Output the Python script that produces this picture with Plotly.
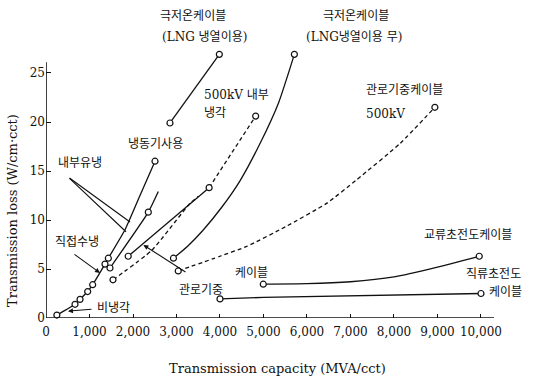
import plotly.graph_objects as go

# ---------------- data ----------------
x_ticks = [0, 1000, 2000, 3000, 4000, 5000, 6000, 7000, 8000, 9000, 10000]
x_tick_labels = ["0", "1,000", "2,000", "3,000", "4,000", "5,000", "6,000",
                 "7,000", "8,000", "9,000", "10,000"]
y_ticks = [0, 5, 10, 15, 20, 25]
y_tick_labels = ["0", "5", "10", "15", "20", "25"]

# non-cooled / direct water cooling / refrigerator curve
main_x = [250, 667, 782, 958, 1073, 1356, 1433, 1816, 2161, 2506]
main_y = [0.3, 1.4, 1.9, 2.7, 3.4, 5.5, 6.1, 9.0, 12.5, 16.0]
main_mx = [250, 667, 782, 958, 1073, 1356, 1433, 2506]
main_my = [0.3, 1.4, 1.9, 2.7, 3.4, 5.5, 6.1, 16.0]

# internal oil cooling curve
oil_x = [1471, 2352, 2582]
oil_y = [5.1, 10.8, 12.9]
oil_mx = [1471, 2352]
oil_my = [5.1, 10.8]

# pipe gas cable (solid)
pipe_x = [1890, 3750]
pipe_y = [6.3, 13.3]
# pipe gas cable (dashed, lower)
pipe_d_x = [1540, 2430, 3310, 3500]
pipe_d_y = [3.9, 6.9, 11.7, 12.4]
pipe_d_mx = [1540]
pipe_d_my = [3.9]
# 500kV internal cooling (dashed)
int500_x = [3750, 4820]
int500_y = [13.3, 20.6]

# cryogenic cable (with LNG)
lng_x = [2850, 3985]
lng_y = [19.9, 26.9]
# cryogenic cable (without LNG)
nolng_x = [2930, 3250, 3600, 4040, 4460, 4920, 5350, 5710]
nolng_y = [6.1, 7.3, 8.9, 11.3, 14.0, 17.8, 22.0, 26.9]
nolng_mx = [2930, 5710]
nolng_my = [6.1, 26.9]

# pipe gas cable 500kV (dashed)
gas500_x = [3040, 4000, 4613, 5500, 6452, 7140, 8138, 8940]
gas500_y = [4.8, 6.3, 7.3, 9.3, 11.7, 14.1, 17.8, 21.5]
gas500_mx = [3040, 8940]
gas500_my = [4.8, 21.5]

# AC superconducting cable
ac_x = [4995, 6000, 7000, 8000, 9000, 9960]
ac_y = [3.45, 3.5, 3.7, 4.2, 5.2, 6.3]
ac_mx = [4995, 9960]
ac_my = [3.45, 6.3]

# DC superconducting cable
dc_x = [4000, 5000, 10000]
dc_y = [1.95, 2.1, 2.5]
dc_mx = [4000, 10000]
dc_my = [1.95, 2.5]

# ---------------- figure ----------------
SERIF = "DejaVu Serif, Noto Sans CJK KR"
BLACK = "#111111"

fig = go.Figure()


def add_line(xs, ys, dash="solid"):
    fig.add_trace(go.Scatter(x=xs, y=ys, mode="lines",
                             line=dict(color=BLACK, width=1.3, dash=dash,
                                       shape="spline", smoothing=0.5),
                             hoverinfo="skip", showlegend=False))


def add_markers(xs, ys):
    fig.add_trace(go.Scatter(x=xs, y=ys, mode="markers",
                             marker=dict(symbol="circle", size=6, color="white",
                                         line=dict(color=BLACK, width=1.2)),
                             hoverinfo="skip", showlegend=False,
                             cliponaxis=False))


add_line(main_x, main_y)
add_line(oil_x, oil_y)
add_line(pipe_x, pipe_y)
add_line(pipe_d_x, pipe_d_y, dash="4px,3px")
add_line(int500_x, int500_y, dash="4px,3px")
add_line(lng_x, lng_y)
add_line(nolng_x, nolng_y)
add_line(gas500_x, gas500_y, dash="4px,3px")
add_line(ac_x, ac_y)
add_line(dc_x, dc_y)

add_markers(main_mx, main_my)
add_markers(oil_mx, oil_my)
add_markers(pipe_x, pipe_y)
add_markers(pipe_d_mx, pipe_d_my)
add_markers(int500_x[1:], int500_y[1:])
add_markers(lng_x, lng_y)
add_markers(nolng_mx, nolng_my)
add_markers(gas500_mx, gas500_my)
add_markers(ac_mx, ac_my)
add_markers(dc_mx, dc_my)

# axis lines
fig.add_shape(type="line", x0=0, x1=0, y0=0, y1=26.1, xref="x", yref="y",
              line=dict(color=BLACK, width=1.6))
fig.add_shape(type="line", x0=0, x1=10300, y0=0, y1=0, xref="x", yref="y",
              line=dict(color=BLACK, width=1.3))

# text labels
labels = [
    ("극저온케이블", 3379, 30.8, "center"),
    ("(LNG 냉열이용)", 3655, 28.7, "center"),
    ("극저온케이블", 7126, 30.8, "center"),
    ("(LNG냉열이용 무)", 7080, 28.7, "center"),
    ("500kV 내부", 3586, 22.8, "left"),
    ("냉각", 3586, 20.9, "left"),
    ("냉동기사용", 2506, 17.8, "center"),
    ("내부유냉", 782, 15.8, "center"),
    ("관로기중케이블", 7310, 23.3, "left"),
    ("500kV", 7310, 20.8, "left"),
    ("교류초전도케이블", 8644, 8.5, "left"),
    ("직류초전도", 9609, 4.5, "left"),
    ("케이블", 10138, 2.65, "left"),
    ("케이블", 4299, 4.6, "left"),
    ("관로기중", 3011, 2.86, "left"),
    ("직접수냉", 713, 7.76, "center"),
    ("비냉각", 1126, 1.0, "left"),
]
for text, lx, ly, anchor in labels:
    fig.add_annotation(x=lx, y=ly, xref="x", yref="y", text=text,
                       showarrow=False, xanchor=anchor, yanchor="middle",
                       font=dict(family=SERIF, size=12, color=BLACK))

# leader lines (head x,y ; tail ax,ay ; arrowhead)
leaders = [
    (1931, 9.8, 506, 14.4, 0),
    (1839, 8.8, 506, 14.4, 0),
    (1241, 4.6, 620, 6.6, 2),
    (506, 0.7, 1080, 0.9, 2),
    (2240, 7.45, 3241, 4.6, 2),
]
for hx, hy, tx, ty, head in leaders:
    fig.add_annotation(x=hx, y=hy, ax=tx, ay=ty, xref="x", yref="y",
                       axref="x", ayref="y", text="", showarrow=True,
                       arrowhead=head, arrowsize=0.9, arrowwidth=1.1,
                       arrowcolor=BLACK)

# axis titles
fig.add_annotation(xref="paper", yref="paper",
                   x=(277 - 46) / 474, y=(318 - 368) / 314,
                   text="Transmission capacity (MVA/cct)", showarrow=False,
                   xanchor="center", yanchor="middle",
                   font=dict(family=SERIF, size=13, color=BLACK))
fig.add_annotation(xref="paper", yref="paper",
                   x=(12 - 46) / 474, y=(318 - 211) / 314,
                   text="Transmission loss (W/cm·cct)", showarrow=False,
                   textangle=-90, xanchor="center", yanchor="middle",
                   font=dict(family=SERIF, size=13, color=BLACK))

fig.update_layout(
    width=533, height=378,
    margin=dict(l=46, r=13, t=4, b=60),
    paper_bgcolor="white", plot_bgcolor="white",
    showlegend=False,
    xaxis=dict(range=[0, 10897], tickvals=x_ticks, ticktext=x_tick_labels,
               ticks="inside", ticklen=4, tickcolor=BLACK, showgrid=False,
               zeroline=False, showline=False, ticklabelstandoff=5,
               tickfont=dict(family=SERIF, size=12, color=BLACK)),
    yaxis=dict(range=[0, 32.04], tickvals=y_ticks, ticktext=y_tick_labels,
               ticks="inside", ticklen=5, tickcolor=BLACK, showgrid=False,
               zeroline=False, showline=False,
               tickfont=dict(family=SERIF, size=12, color=BLACK)),
)

fig.write_html("out.html")
